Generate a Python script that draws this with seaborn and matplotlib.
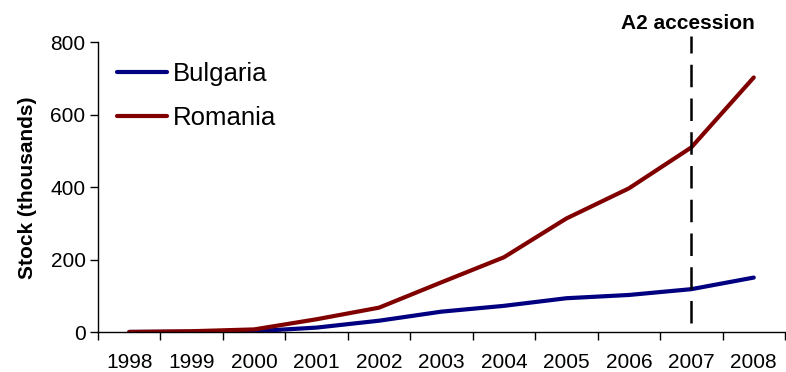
import matplotlib
matplotlib.use("Agg")
import matplotlib.pyplot as plt
import seaborn as sns
import pandas as pd

# Stock of migrants (thousands) by year
years = [1998, 1999, 2000, 2001, 2002, 2003, 2004, 2005, 2006, 2007, 2008]
bulgaria = [1, 1.5, 3, 13, 32, 57, 73, 94, 103, 119, 151]
romania = [1, 3, 8, 36, 68, 138, 207, 314, 397, 510, 703]
countries = ["Bulgaria", "Romania"]
accession_year = 2007
y_ticks = [0, 200, 400, 600, 800]

df = pd.DataFrame({
    "year": years * 2,
    "stock": bulgaria + romania,
    "country": [countries[0]] * len(years) + [countries[1]] * len(years),
})

sns.set_style("ticks")
plt.rcParams["font.family"] = ["Liberation Sans", "DejaVu Sans"]
plt.rcParams["text.color"] = "black"
plt.rcParams["axes.labelcolor"] = "black"
plt.rcParams["xtick.color"] = "black"
plt.rcParams["ytick.color"] = "black"

fig = plt.figure(figsize=(7.86, 3.72), dpi=100)
ax = fig.add_axes([0.1247, 0.1067, 0.874, 0.7796])

sns.lineplot(data=df, x="year", y="stock", hue="country",
             palette={"Bulgaria": "#000080", "Romania": "#800000"},
             linewidth=3.0, ax=ax, legend=True)

ax.set_xlim(years[0] - 0.5, years[-1] + 0.5)
ax.set_ylim(0, 800)
ax.set_yticks(y_ticks)
ax.set_xticks(years)
ax.set_xticklabels([str(y) for y in years])
ax.set_xticks([y - 0.5 for y in years] + [years[-1] + 0.5], minor=True)
ax.tick_params(axis="x", which="major", length=0, pad=15, labelsize=15)
ax.tick_params(axis="x", which="minor", length=6, width=1, color="black")
ax.tick_params(axis="y", length=6, width=1, color="black", labelsize=15, pad=3)

ax.set_xlabel("")
ax.set_ylabel("Stock (thousands)", fontsize=15, fontweight="bold", labelpad=10)

for side in ("top", "right"):
    ax.spines[side].set_visible(False)
for side in ("left", "bottom"):
    ax.spines[side].set_color("black")
    ax.spines[side].set_linewidth(1)

# Accession marker
ax.axvline(accession_year, ymin=0.031, ymax=1.02, color="black",
           linewidth=1.8, linestyle=(0, (9, 4.5)), clip_on=False)
ax.text(accession_year - 0.06, 853, "A2 accession", ha="center", va="center",
        fontsize=15, fontweight="bold", clip_on=False)

leg = ax.legend(loc="upper left", bbox_to_anchor=(0.013, 0.968), frameon=False,
                fontsize=18.5, handlelength=1.95, handletextpad=0.2,
                labelspacing=0.78, borderaxespad=0.0)
for line in leg.get_lines():
    line.set_linewidth(3.0)

fig.savefig("out.png", dpi=100)
